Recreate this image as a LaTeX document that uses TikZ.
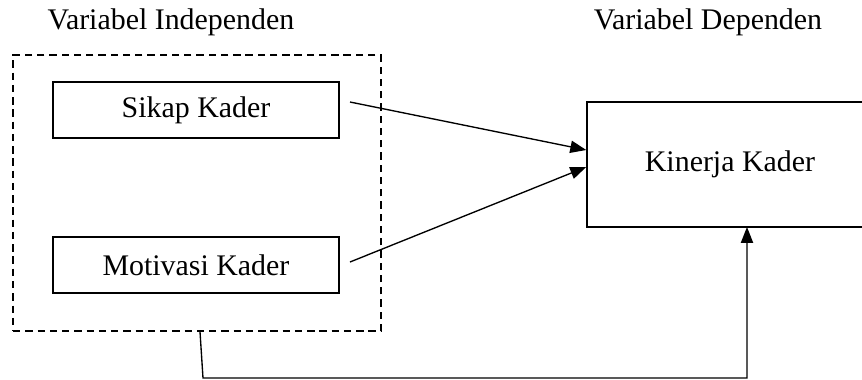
\documentclass[tikz,border=0pt]{standalone}
\usepackage{fontspec}
\setmainfont{Liberation Serif}
\usetikzlibrary{arrows.meta}

\begin{document}
\begin{tikzpicture}[x=0.408pt,y=-0.408pt,font=\fontsize{12.2}{14.4}\selectfont,
    kotak/.style={draw,line width=0.6pt,minimum width=116.7pt,inner sep=0pt},
    panah/.style={-{Triangle[length=6.5pt,width=5pt]},line width=0.55pt}]
      \clip (0,0) rectangle (862,379);
      \node (judulX) at (171,22) {Variabel Independen};
      \node (judulY) at (708,22) {Variabel Dependen};
      \node[draw,line width=0.55pt,dash pattern=on 3pt off 2pt,minimum width=150.1pt,minimum height=112.6pt,inner sep=0pt] (indep) at (197,193) {};
      \node[kotak,minimum height=22.8pt] (sikap) at (196,110) {Sikap Kader};
      \node[kotak,minimum height=22.8pt] (motivasi) at (196,265) {Motivasi Kader};
      \node[kotak,minimum height=51pt] (kinerja) at (730,164.5) {Kinerja Kader};
      \coordinate (s1) at (350,102);
      \coordinate (m1) at (350,262);
      \coordinate (k1) at (kinerja.west |- 0,150);
      \coordinate (k2) at (kinerja.west |- 0,167);
      \coordinate (k3) at (747,227);
      \draw[panah] (s1) -- (k1);
      \draw[panah] (m1) -- (k2);
      \draw[panah] (indep.south -| 200,0) -- (203,378) -- (747,378) -- (k3);
    \end{tikzpicture}
\end{document}
